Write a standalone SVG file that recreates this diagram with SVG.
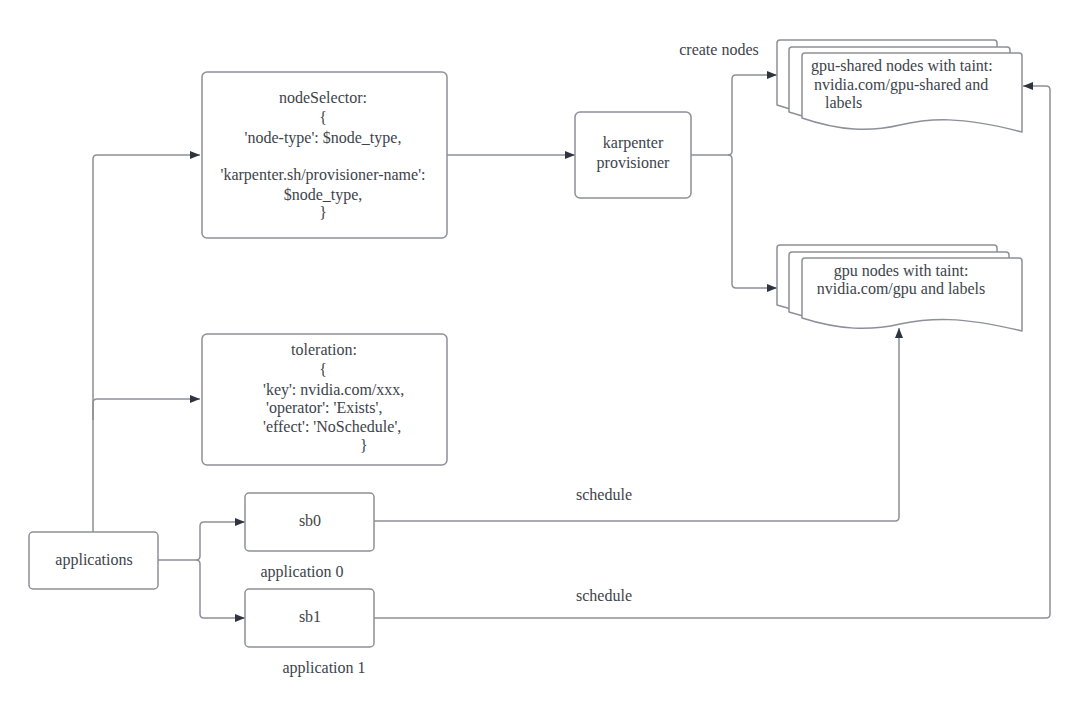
<svg xmlns="http://www.w3.org/2000/svg" width="1080" height="719" viewBox="0 0 1080 719">
<defs>
<style>
.box{fill:#fff;stroke:#8d9098;stroke-width:1.5}
.doc{fill:#fff;stroke:#8d9098;stroke-width:1.5;stroke-linejoin:round}
.t{font-family:"Liberation Serif","Times New Roman",serif;font-size:16px;fill:#3d434b}
.c{text-anchor:middle}
.ln{fill:none;stroke:#8d9098;stroke-width:1.5}
</style>
<marker id="ah" viewBox="0 0 10 8" refX="10" refY="4" markerWidth="10" markerHeight="8" markerUnits="userSpaceOnUse" orient="auto">
<path d="M0,0 L10,4 L0,8 Z" fill="#2f3540"/>
</marker>
</defs>
<rect width="1080" height="719" fill="#fff"/>

<g id="connectors">
<path class="ln" d="M93,532 V159 Q93,155 97,155 H200" marker-end="url(#ah)"/>
<path class="ln" d="M93,420 V403 Q93,399 97,399 H200" marker-end="url(#ah)"/>
<path class="ln" d="M158,560 H196 Q200,560 200,556 V526 Q200,522 204,522 H245" marker-end="url(#ah)"/>
<path class="ln" d="M196,560 Q200,560 200,564 V614 Q200,618 204,618 H245" marker-end="url(#ah)"/>
<path class="ln" d="M447,155 H575" marker-end="url(#ah)"/>
<path class="ln" d="M691,155 H728 Q732,155 732,151 V79 Q732,75 736,75 H777" marker-end="url(#ah)"/>
<path class="ln" d="M728,155 Q732,155 732,159 V284 Q732,288 736,288 H777" marker-end="url(#ah)"/>
<path class="ln" d="M374,521 H895 Q899,521 899,517 V328" marker-end="url(#ah)"/>
<path class="ln" d="M374,618 H1046 Q1050,618 1050,614 V90 Q1050,86 1046,86 H1023" marker-end="url(#ah)"/>
</g>

<g id="nodeSelector">
<rect class="box" x="202" y="72" width="245" height="166" rx="5"/>
<text class="t c" x="323" y="103">nodeSelector:</text>
<text class="t c" x="323" y="123">{</text>
<text class="t c" x="323" y="143">'node-type': $node_type,</text>
<text class="t c" x="323" y="180">'karpenter.sh/provisioner-name':</text>
<text class="t c" x="323" y="200">$node_type,</text>
<text class="t c" x="323" y="218">}</text>
</g>

<g id="toleration">
<rect class="box" x="202" y="334" width="245" height="131" rx="5"/>
<text class="t c" x="324" y="355">toleration:</text>
<text class="t c" x="323" y="375">{</text>
<text class="t" x="263" y="395">'key': nvidia.com/xxx,</text>
<text class="t" x="266" y="413">'operator': 'Exists',</text>
<text class="t" x="263" y="432">'effect': 'NoSchedule',</text>
<text class="t" x="360" y="451">}</text>
</g>

<g id="karpenter">
<rect class="box" x="575" y="112" width="116" height="86" rx="5"/>
<text class="t c" x="633" y="148">karpenter</text>
<text class="t c" x="633" y="168">provisioner</text>
</g>

<g id="gpu-shared-nodes">
<text class="t c" x="719" y="55">create nodes</text>
<path class="doc" d="M777,43 Q777,40 780,40 H994 Q997,40 997,43 V119 C935,103 905,105 875,112 C845,119 815,118 777,105 Z"/>
<path class="doc" d="M789,50 Q789,47 792,47 H1007 Q1010,47 1010,50 V126 C948,110 918,112 888,119 C858,126 828,125 789,112 Z"/>
<path class="doc" d="M802,56 Q802,53 805,53 H1019 Q1022,53 1022,56 V132 C960,116 930,118 900,125 C870,132 840,131 802,118 Z"/>
<text class="t" x="811" y="71">gpu-shared nodes with taint:</text>
<text class="t" x="814" y="90">nvidia.com/gpu-shared and</text>
<text class="t" x="825" y="108">labels</text>
</g>

<g id="gpu-nodes">
<path class="doc" d="M777,248 Q777,245 780,245 H994 Q997,245 997,248 V318 C935,303 905,305 875,311 C845,318 815,317 777,305 Z"/>
<path class="doc" d="M789,255 Q789,252 792,252 H1006 Q1009,252 1009,255 V325 C947,310 917,312 887,318 C857,325 827,324 789,312 Z"/>
<path class="doc" d="M802,261 Q802,258 805,258 H1019 Q1022,258 1022,261 V331 C960,316 930,318 900,324 C870,331 840,330 802,318 Z"/>
<text class="t c" x="901" y="276">gpu nodes with taint:</text>
<text class="t c" x="901" y="294">nvidia.com/gpu and labels</text>
</g>

<g id="applications">
<rect class="box" x="29" y="532" width="129" height="57" rx="4"/>
<text class="t c" x="94" y="565">applications</text>
</g>

<g id="sb0">
<rect class="box" x="245" y="493" width="129" height="58" rx="4"/>
<text class="t c" x="310" y="526">sb0</text>
<text class="t c" x="302" y="577">application 0</text>
</g>

<g id="sb1">
<rect class="box" x="245" y="589" width="129" height="58" rx="4"/>
<text class="t c" x="310" y="622">sb1</text>
<text class="t c" x="324" y="673">application 1</text>
</g>

<g id="labels">
<text class="t c" x="604" y="500">schedule</text>
<text class="t c" x="604" y="601">schedule</text>
</g>
</svg>
